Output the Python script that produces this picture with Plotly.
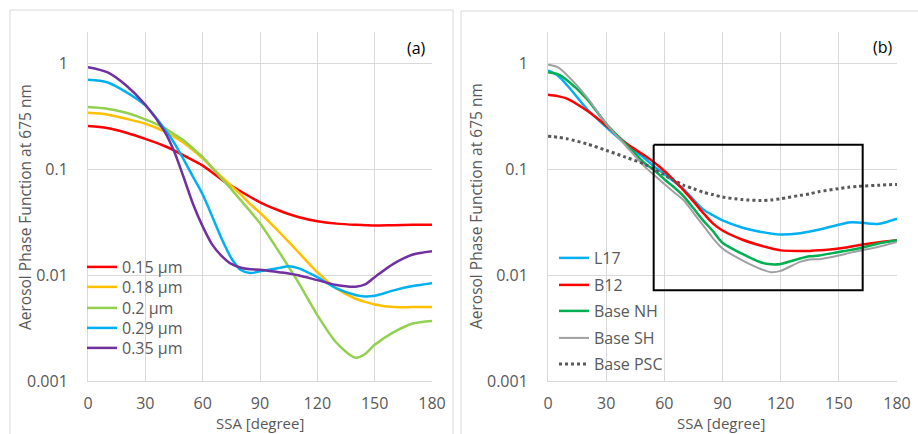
import plotly.graph_objects as go

# ---------------- data: panel (a) ----------------
angles_a = [0, 10, 20, 30, 40, 45, 50, 55, 60, 65, 70, 75, 80, 85, 90, 100, 105, 110,
            120, 130, 140, 145, 150, 160, 170, 180]
r015 = [0.258, 0.247, 0.223, 0.195, 0.167, 0.152, 0.136, 0.122, 0.109, 0.094, 0.080, 0.070,
        0.062, 0.055, 0.049, 0.041, 0.038, 0.0356, 0.0324, 0.0308, 0.030, 0.0298, 0.0296,
        0.0298, 0.030, 0.0301]
r018 = [0.344, 0.332, 0.302, 0.271, 0.23, 0.205, 0.179, 0.152, 0.127, 0.104, 0.085, 0.070,
        0.058, 0.047, 0.039, 0.0257, 0.0207, 0.0166, 0.0107, 0.0075, 0.006, 0.0056, 0.0053,
        0.0050, 0.0050, 0.0050]
r020 = [0.39, 0.376, 0.344, 0.298, 0.247, 0.217, 0.189, 0.158, 0.131, 0.104, 0.082, 0.065,
        0.051, 0.040, 0.031, 0.0166, 0.012, 0.0086, 0.0042, 0.0023, 0.00166, 0.0018, 0.0022,
        0.0029, 0.0035, 0.0037]
r029 = [0.706, 0.67, 0.54, 0.404, 0.243, 0.18, 0.125, 0.085, 0.058, 0.036, 0.022, 0.0145,
        0.0112, 0.0105, 0.0109, 0.0117, 0.0122, 0.0117, 0.0096, 0.0075, 0.0065, 0.0063, 0.0064,
        0.0072, 0.0079, 0.0084]
r035 = [0.93, 0.834, 0.624, 0.41, 0.23, 0.15, 0.085, 0.047, 0.029, 0.0195, 0.0152, 0.0128,
        0.0118, 0.0114, 0.0113, 0.0107, 0.0104, 0.010, 0.009, 0.0081, 0.0078, 0.0082, 0.0096,
        0.0129, 0.0157, 0.0169]
names_a = ["0.15 µm", "0.18 µm", "0.2 µm", "0.29 µm", "0.35 µm"]

# ---------------- data: panel (b) ----------------
angles_b = [0, 5, 10, 20, 30, 40, 50, 55, 60, 65, 70, 75, 80, 85, 90, 100, 110, 115, 120,
            130, 135, 140, 150, 155, 160, 170, 180]
l17 = [0.865, 0.776, 0.624, 0.376, 0.252, 0.175, 0.127, 0.106, 0.091, 0.077, 0.065, 0.052,
       0.042, 0.037, 0.033, 0.0283, 0.0257, 0.0248, 0.0243, 0.025, 0.026, 0.0271, 0.030,
       0.0316, 0.0316, 0.0306, 0.0343]
b12 = [0.51, 0.495, 0.467, 0.362, 0.261, 0.179, 0.135, 0.116, 0.097, 0.079, 0.0636, 0.050,
       0.0389, 0.031, 0.0265, 0.0218, 0.019, 0.018, 0.0172, 0.017, 0.017, 0.0172, 0.0179,
       0.0185, 0.0192, 0.0204, 0.0214]
base_nh = [0.834, 0.80, 0.696, 0.467, 0.271, 0.175, 0.114, 0.098, 0.081, 0.068, 0.0558, 0.043,
           0.0331, 0.0262, 0.0203, 0.016, 0.0132, 0.0127, 0.0128, 0.0144, 0.0151, 0.0154,
           0.0166, 0.0172, 0.0179, 0.0199, 0.0214]
base_sh = [0.98, 0.93, 0.776, 0.484, 0.271, 0.169, 0.106, 0.088, 0.073, 0.061, 0.0512, 0.039,
           0.0297, 0.0225, 0.0179, 0.0139, 0.0114, 0.0107, 0.011, 0.0134, 0.0141, 0.0142,
           0.0154, 0.0162, 0.017, 0.0185, 0.0207]
base_psc = [0.207, 0.202, 0.195, 0.175, 0.152, 0.131, 0.112, 0.100, 0.089, 0.079, 0.071, 0.066,
            0.061, 0.058, 0.055, 0.052, 0.051, 0.0515, 0.053, 0.057, 0.059, 0.0619, 0.066,
            0.068, 0.0693, 0.071, 0.0724]
names_b = ["L17", "B12", "Base NH", "Base SH", "Base PSC"]

# highlighted box in panel (b): SSA range and phase-function range
box_ssa = [54.5, 162.3]
box_pf = [0.00723, 0.172]

y_ticks = [0.001, 0.01, 0.1, 1]
y_ticktext = ["0.001", "0.01", "0.1", "1"]

FONT = "Open Sans"
GRAY = "#595959"
GRID = "#d9d9d9"
W, H = 918, 434

fig = go.Figure()
legends = {}

# legend entry positions (pixels: left of legend box, centre y of the entry)
leg_a_x = 82
leg_a_y = [267, 287, 308, 328, 348]
leg_b_x = 554
leg_b_y = [258, 285, 311, 338, 364]

colors_a = ["#FF0000", "#FFC000", "#92D050", "#00B0F0", "#7030A0"]
k = 0
for i, (name, vals, col) in enumerate(zip(names_a, [r015, r018, r020, r029, r035], colors_a)):
    key = "legend" if k == 0 else f"legend{k + 1}"
    k += 1
    fig.add_trace(go.Scatter(x=angles_a, y=vals, name=name, mode="lines",
                             line=dict(color=col, width=2.5, shape="spline", smoothing=0.8),
                             xaxis="x", yaxis="y", legend=key))
    legends[key] = dict(x=leg_a_x / W, y=1 - leg_a_y[i] / H, xanchor="left", yanchor="middle",
                        bgcolor="rgba(0,0,0,0)", font=dict(family=FONT, size=16, color=GRAY))

styles_b = [dict(color="#00B0F0", width=2.5),
            dict(color="#FF0000", width=2.5),
            dict(color="#00B050", width=2.5),
            dict(color="#A0A0A0", width=2),
            dict(color="#595959", width=3, dash="dot")]
for i, (name, vals, st) in enumerate(zip(names_b, [l17, b12, base_nh, base_sh, base_psc], styles_b)):
    key = f"legend{k + 1}"
    k += 1
    fig.add_trace(go.Scatter(x=angles_b, y=vals, name=name, mode="lines",
                             line=dict(shape="spline", smoothing=0.8, **st),
                             xaxis="x2", yaxis="y2", legend=key))
    legends[key] = dict(x=leg_b_x / W, y=1 - leg_b_y[i] / H, xanchor="left", yanchor="middle",
                        bgcolor="rgba(0,0,0,0)", font=dict(family=FONT, size=16, color=GRAY))

fig.add_trace(go.Scatter(x=[box_ssa[0], box_ssa[1], box_ssa[1], box_ssa[0], box_ssa[0]],
                         y=[box_pf[1], box_pf[1], box_pf[0], box_pf[0], box_pf[1]],
                         mode="lines", line=dict(color="black", width=2),
                         showlegend=False, xaxis="x2", yaxis="y2", hoverinfo="skip"))

xdom_a = [88 / W, 432 / W]
xdom_b = [548 / W, 897 / W]
ydom = [1 - 381 / H, 1 - 32 / H]

xcommon = dict(range=[0, 180], tick0=0, dtick=30, showgrid=True, gridcolor=GRID, gridwidth=1,
               showline=True, linecolor=GRID, linewidth=1, zeroline=False, ticks="",
               tickfont=dict(family=FONT, size=16, color=GRAY), ticklabelstandoff=8,
               automargin=False)
ycommon = dict(type="log", range=[-3, 0.301], tickvals=y_ticks, ticktext=y_ticktext,
               showgrid=True, gridcolor=GRID, gridwidth=1, showline=True, linecolor=GRID,
               linewidth=1, zeroline=False, ticks="",
               tickfont=dict(family=FONT, size=16, color=GRAY), ticklabelstandoff=16,
               automargin=False)

fig.update_layout(
    width=W, height=H,
    margin=dict(l=0, r=0, t=0, b=0, autoexpand=False),
    paper_bgcolor="white", plot_bgcolor="white",
    font=dict(family=FONT, color=GRAY),
    xaxis=dict(domain=xdom_a, anchor="y", **xcommon),
    yaxis=dict(domain=ydom, anchor="x", **ycommon),
    xaxis2=dict(domain=xdom_b, anchor="y2", **xcommon),
    yaxis2=dict(domain=ydom, anchor="x2", **ycommon),
    shapes=[
        dict(type="rect", xref="paper", yref="paper", x0=10 / W, x1=453 / W,
             y0=-0.1, y1=1 - 10 / H, line=dict(color=GRID, width=1)),
        dict(type="rect", xref="paper", yref="paper", x0=461 / W, x1=1.01,
             y0=-0.1, y1=1 - 11 / H, line=dict(color=GRID, width=1)),
    ],
    annotations=[
        dict(text="(a)", xref="paper", yref="paper", x=416 / W, y=1 - 48 / H,
             xanchor="center", yanchor="middle", showarrow=False,
             font=dict(family=FONT, size=16, color="#000000")),
        dict(text="(b)", xref="paper", yref="paper", x=883 / W, y=1 - 47 / H,
             xanchor="center", yanchor="middle", showarrow=False,
             font=dict(family=FONT, size=16, color="#000000")),
        dict(text="Aerosol Phase Function at 675 nm", xref="paper", yref="paper",
             x=25 / W, y=1 - 207 / H, textangle=-90, xanchor="center", yanchor="middle",
             showarrow=False, font=dict(family=FONT, size=15.5, color=GRAY)),
        dict(text="Aerosol Phase Function at 675 nm", xref="paper", yref="paper",
             x=476 / W, y=1 - 206 / H, textangle=-90, xanchor="center", yanchor="middle",
             showarrow=False, font=dict(family=FONT, size=15.5, color=GRAY)),
        dict(text="SSA [degree]", xref="paper", yref="paper", x=260 / W, y=1 - 423 / H,
             xanchor="center", yanchor="middle", showarrow=False,
             font=dict(family=FONT, size=15, color=GRAY)),
        dict(text="SSA [degree]", xref="paper", yref="paper", x=721 / W, y=1 - 423 / H,
             xanchor="center", yanchor="middle", showarrow=False,
             font=dict(family=FONT, size=15, color=GRAY)),
    ],
    showlegend=True,
)
fig.update_layout(**legends)

fig.write_html("out.html", config={"displayModeBar": False},
               post_script="document.body.style.margin='0px';document.body.style.overflow='hidden';")
